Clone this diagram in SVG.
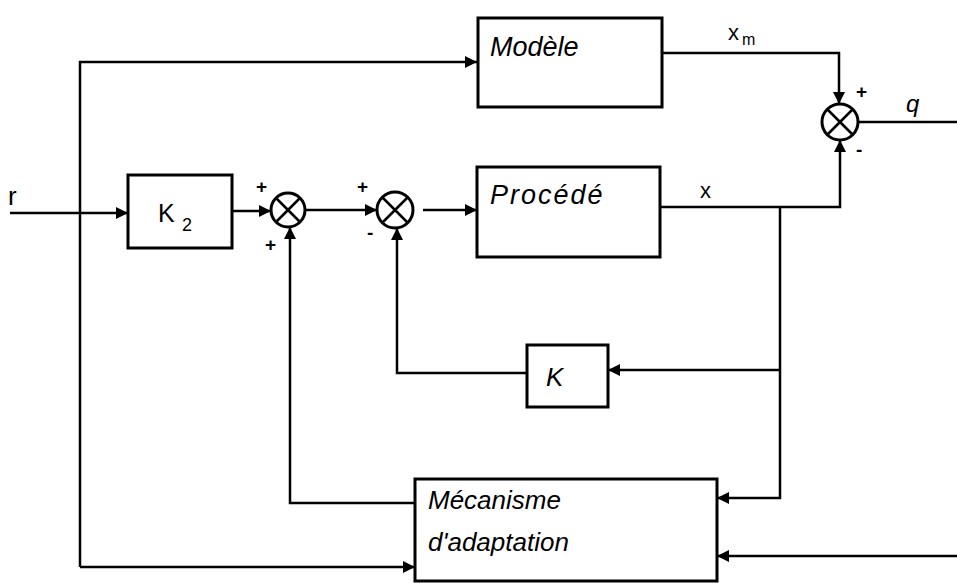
<svg xmlns="http://www.w3.org/2000/svg" width="957" height="583" viewBox="0 0 957 583">
<style>
.box{fill:#fff;stroke:#000;stroke-width:3}
.ln{fill:none;stroke:#000;stroke-width:2.5}
.sum{fill:#fff;stroke:#000;stroke-width:3}
.x{stroke:#000;stroke-width:2.5}
.lbl{font-family:"Liberation Sans",sans-serif;font-style:italic;fill:#000}
.up{font-family:"Liberation Sans",sans-serif;font-style:normal;fill:#000}
.big{font-size:27px}
.sg{font-family:"Liberation Sans",sans-serif;font-weight:bold;font-size:19px;fill:#000}
</style>
<defs>
<marker id="ah" viewBox="0 0 10 10" refX="10" refY="5" markerWidth="12" markerHeight="12" markerUnits="userSpaceOnUse" orient="auto">
<path d="M0,0 L10,5 L0,10 Z" fill="#000"/>
</marker>
</defs>
<rect width="957" height="583" fill="#fff"/>
<g id="connectors">
<path class="ln" d="M80,567 V62 H477" marker-end="url(#ah)"/>
<path class="ln" d="M10,213 H128" marker-end="url(#ah)"/>
<path class="ln" d="M232,211 H271" marker-end="url(#ah)"/>
<path class="ln" d="M305,210 H377" marker-end="url(#ah)"/>
<path class="ln" d="M423,210 H477" marker-end="url(#ah)"/>
<path class="ln" d="M662,53 H839 V104" marker-end="url(#ah)"/>
<path class="ln" d="M660,207 H840 V140" marker-end="url(#ah)"/>
<path class="ln" d="M858,122 H957"/>
<path class="ln" d="M780,207 V498 H717" marker-end="url(#ah)"/>
<path class="ln" d="M780,370 H608" marker-end="url(#ah)"/>
<path class="ln" d="M527,373 H397 V228" marker-end="url(#ah)"/>
<path class="ln" d="M415,503 H290 V227" marker-end="url(#ah)"/>
<path class="ln" d="M80,567 H415" marker-end="url(#ah)"/>
<path class="ln" d="M957,556 H717" marker-end="url(#ah)"/>
</g>
<g id="input"><text class="up" x="8" y="205" font-size="26">r</text></g>
<g id="modele">
<rect class="box" x="478" y="18" width="184" height="89"/>
<text class="lbl big" x="490" y="56">Modèle</text>
</g>
<g id="k2">
<rect class="box" x="128" y="175" width="104" height="73"/>
<text class="up" x="158" y="222" font-size="25">K</text>
<text class="up" x="182" y="231" font-size="18">2</text>
</g>
<g id="sum1">
<circle class="sum" cx="288" cy="210" r="17"/>
<path class="x" d="M276,198 L300,222 M300,198 L276,222"/>
<text class="sg" x="256" y="193">+</text>
<text class="sg" x="265" y="251">+</text>
</g>
<g id="sum2">
<circle class="sum" cx="395" cy="210" r="18"/>
<path class="x" d="M382,197 L408,223 M408,197 L382,223"/>
<text class="sg" x="357" y="193">+</text>
<text class="sg" x="367" y="239">-</text>
</g>
<g id="procede">
<rect class="box" x="477" y="167" width="183" height="90"/>
<text class="lbl big" x="490" y="204" letter-spacing="2">Procédé</text>
</g>
<g id="sum3">
<circle class="sum" cx="840" cy="122" r="18"/>
<path class="x" d="M827,109 L853,135 M853,109 L827,135"/>
<text class="sg" x="856" y="98">+</text>
<text class="sg" x="856" y="156">-</text>
</g>
<g id="labels">
<text class="up" x="728" y="40" font-size="22">x</text>
<text class="up" x="742" y="45" font-size="16">m</text>
<text class="up" x="700" y="198" font-size="22">x</text>
<text class="lbl" x="906" y="112" font-size="24">q</text>
</g>
<g id="k">
<rect class="box" x="527" y="345" width="81" height="62"/>
<text class="lbl" x="546" y="386" font-size="26">K</text>
</g>
<g id="mecanisme">
<rect class="box" x="415" y="479" width="302" height="102"/>
<text class="lbl" x="428" y="509" font-size="26">Mécanisme</text>
<text class="lbl" x="428" y="551" font-size="26">d'adaptation</text>
</g>
</svg>
